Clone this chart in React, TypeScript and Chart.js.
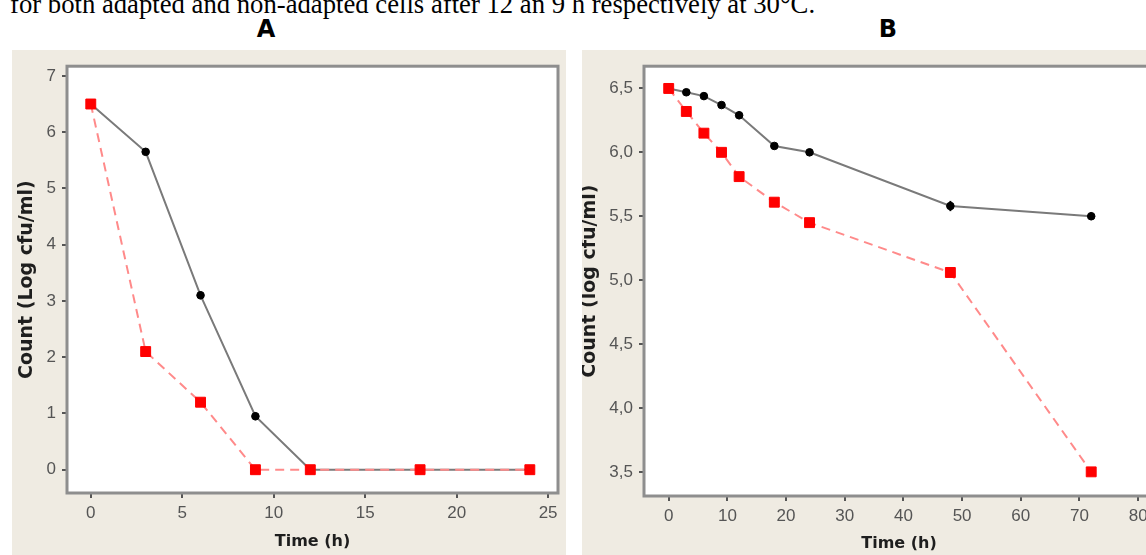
import React, { useEffect, useRef } from "react";
import { Chart, registerables } from "chart.js";

Chart.register(...registerables);

// ---------- Data: panel A ----------
const timeA = [0, 3, 6, 9, 12, 18, 24];
const adaptedA = [6.5, 5.65, 3.1, 0.95, 0, 0, 0];
const adaptedErrA = [0, 0.05, 0.07, 0.07, 0, 0, 0];
const nonAdaptedA = [6.5, 2.1, 1.2, 0, 0, 0, 0];
const yTicksA = [0, 1, 2, 3, 4, 5, 6, 7];
const xTicksA = [0, 5, 10, 15, 20, 25];

// ---------- Data: panel B ----------
const timeB = [0, 3, 6, 9, 12, 18, 24, 48, 72];
const adaptedB = [6.5, 6.47, 6.44, 6.37, 6.29, 6.05, 6.0, 5.58, 5.5];
const adaptedErrB = [0, 0.02, 0.02, 0.02, 0.03, 0.02, 0.02, 0.04, 0.03];
const nonAdaptedB = [6.5, 6.32, 6.15, 6.0, 5.81, 5.61, 5.45, 5.06, 3.5];
const yTicksB = [3.5, 4, 4.5, 5, 5.5, 6, 6.5];
const xTicksB = [0, 10, 20, 30, 40, 50, 60, 70, 80];

const CAPTION = "for both adapted and non-adapted cells after 12 an 9 h respectively at 30°C.";

const BEIGE = "#efebe2";
const TICK_FONT = { family: "'Liberation Sans', Arial, sans-serif", size: 17 };
const TICK_COLOR = "#555555";

const panelPlugin = {
  id: "panelPlugin",
  beforeDraw(chart: any) {
    const { ctx, chartArea: a, width, height } = chart;
    ctx.save();
    ctx.fillStyle = BEIGE;
    ctx.fillRect(0, 0, width, height);
    ctx.fillStyle = "#ffffff";
    ctx.fillRect(a.left, a.top, a.right - a.left, a.bottom - a.top);
    ctx.restore();
  },
  afterDatasetsDraw(chart: any) {
    const { ctx } = chart;
    const xs = chart.scales.x;
    const ys = chart.scales.y;
    chart.data.datasets.forEach((ds: any) => {
      if (!ds.errors) return;
      ctx.save();
      ctx.strokeStyle = "#000";
      ctx.lineWidth = 2;
      ds.data.forEach((p: any, i: number) => {
        const e = ds.errors[i];
        if (!e) return;
        const x = xs.getPixelForValue(p.x);
        ctx.beginPath();
        ctx.moveTo(x, ys.getPixelForValue(p.y + e));
        ctx.lineTo(x, ys.getPixelForValue(p.y - e));
        ctx.stroke();
      });
      ctx.restore();
    });
  },
  afterDraw(chart: any) {
    const { ctx, chartArea: a } = chart;
    ctx.save();
    ctx.strokeStyle = "#8e8e8e";
    ctx.lineWidth = 3;
    ctx.strokeRect(a.left, a.top, a.right - a.left, a.bottom - a.top);
    ctx.restore();
  },
};

function makeConfig(p: any) {
  const pts = (xs: number[], ys: number[]) => xs.map((x, i) => ({ x, y: ys[i] }));
  return {
    type: "line",
    data: {
      datasets: [
        {
          label: "Non-adapted",
          data: pts(p.time, p.nonAdapted),
          borderColor: "#ff8a8a",
          borderWidth: 2,
          borderDash: [9, 6],
          pointStyle: "rect",
          pointRadius: 7,
          pointBackgroundColor: "#ff0000",
          pointBorderColor: "#ff0000",
          pointBorderWidth: 1,
          tension: 0,
          fill: false,
        },
        {
          label: "Adapted",
          data: pts(p.time, p.adapted),
          errors: p.errors,
          borderColor: "#7a7a7a",
          borderWidth: 2,
          pointStyle: "circle",
          pointRadius: 3.8,
          pointBackgroundColor: "#000000",
          pointBorderColor: "#000000",
          pointBorderWidth: 1,
          tension: 0,
          fill: false,
        },
      ],
    },
    options: {
      responsive: false,
      animation: false,
      events: [],
      layout: { padding: p.padding },
      plugins: { legend: { display: false }, tooltip: { enabled: false } },
      scales: {
        x: {
          type: "linear",
          min: p.xMin,
          max: p.xMax,
          afterBuildTicks: (s: any) => {
            s.ticks = p.xTicks.map((v: number) => ({ value: v }));
          },
          afterFit: (s: any) => {
            s.height = p.xHeight;
          },
          grid: { drawOnChartArea: false, drawTicks: true, tickLength: 5, color: "#555", lineWidth: 2 },
          border: { display: false },
          ticks: { font: TICK_FONT, color: TICK_COLOR, padding: 5, maxRotation: 0, callback: (v: any) => String(v) },
          title: {
            display: true,
            text: "Time (h)",
            color: "#1e1e1e",
            font: { family: "'DejaVu Sans', sans-serif", size: 16, weight: "bold", lineHeight: 1 },
            padding: { top: 0, bottom: p.xTitlePad },
          },
        },
        y: {
          type: "linear",
          min: p.yMin,
          max: p.yMax,
          afterBuildTicks: (s: any) => {
            s.ticks = p.yTicks.map((v: number) => ({ value: v }));
          },
          afterFit: (s: any) => {
            s.width = p.yWidth;
          },
          grid: { drawOnChartArea: false, drawTicks: true, tickLength: 5, color: "#555", lineWidth: 2 },
          border: { display: false },
          ticks: { font: TICK_FONT, color: TICK_COLOR, padding: 6, callback: p.fmt },
          title: {
            display: true,
            text: p.yTitle,
            color: "#1e1e1e",
            font: { family: "'DejaVu Sans', sans-serif", size: 19, weight: "bold", lineHeight: 1 },
            padding: { top: p.yTitlePad, bottom: 0 },
          },
        },
      },
    },
    plugins: [panelPlugin],
  } as any;
}

function Panel(props: { left: number; top: number; width: number; height: number; cfg: any }) {
  const ref = useRef<HTMLCanvasElement>(null);
  useEffect(() => {
    const chart = new Chart(ref.current as HTMLCanvasElement, props.cfg);
    return () => chart.destroy();
  }, []);
  return (
    <canvas
      ref={ref}
      width={props.width}
      height={props.height}
      style={{ position: "absolute", left: props.left, top: props.top, width: props.width, height: props.height }}
    />
  );
}

const cfgA = makeConfig({
  time: timeA,
  adapted: adaptedA,
  nonAdapted: nonAdaptedA,
  errors: adaptedErrA,
  xMin: -1.3,
  xMax: 25.54,
  yMin: -0.414,
  yMax: 7.172,
  xTicks: xTicksA,
  yTicks: yTicksA,
  padding: { left: 0, top: 3, right: 3, bottom: 0 },
  xHeight: 62,
  yWidth: 55,
  xTitlePad: 5,
  yTitlePad: 6,
  yTitle: "Count (Log cfu/ml)",
  fmt: (v: any) => String(v),
});

const cfgB = makeConfig({
  time: timeB,
  adapted: adaptedB,
  nonAdapted: nonAdaptedB,
  errors: adaptedErrB,
  xMin: -4.21,
  xMax: 82.7,
  yMin: 3.311,
  yMax: 6.674,
  xTicks: xTicksB,
  yTicks: yTicksB,
  padding: { left: 0, top: 2, right: 2, bottom: 0 },
  xHeight: 59,
  yWidth: 62,
  xTitlePad: 3.5,
  yTitlePad: -1.5,
  yTitle: "Count (log cfu/ml)",
  fmt: (v: any) => Number(v).toFixed(1).replace(".", ","),
});

export default function App() {
  return (
    <div
      style={{
        position: "absolute",
        left: 0,
        top: 0,
        width: 1146,
        height: 555,
        overflow: "hidden",
        background: "#ffffff",
      }}
    >
      <div
        style={{
          position: "absolute",
          left: 10,
          top: -9,
          whiteSpace: "nowrap",
          fontFamily: "'Liberation Serif', 'Times New Roman', serif",
          fontSize: 26.7,
          lineHeight: "26.7px",
          color: "#000",
        }}
      >
        {CAPTION}
      </div>
      <Panel left={12} top={50} width={554} height={505} cfg={cfgA} />
      <Panel left={582} top={50} width={580} height={505} cfg={cfgB} />
      <div
        style={{
          position: "absolute",
          left: 246,
          top: 16.7,
          width: 40,
          textAlign: "center",
          fontFamily: "'DejaVu Sans', sans-serif",
          fontWeight: "bold",
          fontSize: 24,
          lineHeight: "24px",
          color: "#000",
        }}
      >
        A
      </div>
      <div
        style={{
          position: "absolute",
          left: 868,
          top: 16.7,
          width: 40,
          textAlign: "center",
          fontFamily: "'DejaVu Sans', sans-serif",
          fontWeight: "bold",
          fontSize: 24,
          lineHeight: "24px",
          color: "#000",
        }}
      >
        B
      </div>
    </div>
  );
}
